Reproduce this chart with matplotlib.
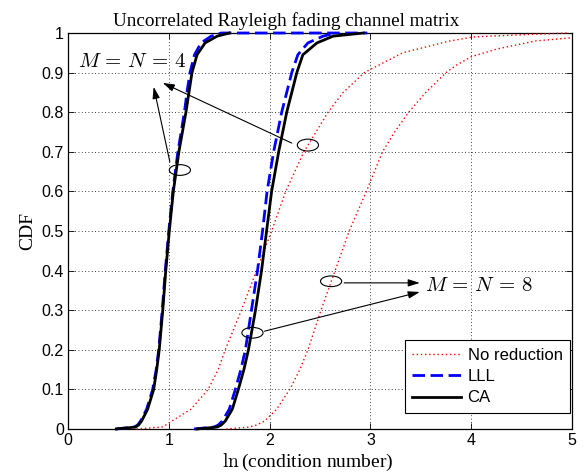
import matplotlib
matplotlib.use("Agg")
import matplotlib.pyplot as plt
from matplotlib.patches import Ellipse

plt.rcParams['mathtext.fontset'] = 'cm'

# ---- data: ln(condition number) (x) against CDF (y) ----
# M = N = 4
none4_x = [0.68, 0.93, 0.97, 1.03, 1.22, 1.39, 1.49, 1.56, 1.72, 1.87, 2.02, 2.16, 2.34, 2.58, 2.73, 2.94, 3.32, 3.79, 4.02, 4.45, 4.95]
none4_y = [0.0, 0.005, 0.01, 0.02, 0.05, 0.1, 0.15, 0.2, 0.3, 0.4, 0.5, 0.6, 0.7, 0.8, 0.85, 0.9, 0.95, 0.98, 0.99, 0.995, 1.0]

lll4_x = [0.47, 0.66, 0.69, 0.72, 0.78, 0.84, 0.875, 0.90, 0.935, 0.965, 1.0, 1.04, 1.09, 1.155, 1.18, 1.21, 1.255, 1.32, 1.42, 1.52, 2.97]
lll4_y = [0.0, 0.005, 0.01, 0.02, 0.05, 0.1, 0.15, 0.2, 0.3, 0.4, 0.5, 0.6, 0.7, 0.8, 0.85, 0.9, 0.945, 0.975, 0.992, 1.0, 1.0]

ca4_x = [0.48, 0.67, 0.70, 0.73, 0.79, 0.85, 0.88, 0.905, 0.94, 0.97, 1.005, 1.045, 1.10, 1.17, 1.20, 1.23, 1.28, 1.36, 1.48, 1.60]
ca4_y = [0.0, 0.005, 0.01, 0.02, 0.05, 0.1, 0.15, 0.2, 0.3, 0.4, 0.5, 0.6, 0.7, 0.8, 0.85, 0.9, 0.945, 0.975, 0.992, 1.0]

# M = N = 8
none8_x = [1.57, 1.80, 1.87, 1.95, 2.07, 2.20, 2.30, 2.38, 2.51, 2.65, 2.79, 2.96, 3.12, 3.24, 3.38, 3.55, 3.75, 3.86, 4.00, 4.26, 4.64, 5.00]
none8_y = [0.0, 0.005, 0.01, 0.02, 0.05, 0.1, 0.15, 0.2, 0.3, 0.4, 0.5, 0.6, 0.7, 0.75, 0.8, 0.85, 0.9, 0.92, 0.94, 0.96, 0.98, 0.988]

lll8_x = [1.25, 1.45, 1.49, 1.53, 1.60, 1.66, 1.715, 1.76, 1.82, 1.88, 1.93, 1.975, 2.04, 2.12, 2.17, 2.22, 2.28, 2.38, 2.53, 2.66]
lll8_y = [0.0, 0.005, 0.01, 0.02, 0.05, 0.1, 0.15, 0.2, 0.3, 0.4, 0.5, 0.6, 0.7, 0.8, 0.85, 0.9, 0.945, 0.975, 0.992, 1.0]

ca8_x = [1.28, 1.48, 1.52, 1.56, 1.63, 1.69, 1.745, 1.79, 1.86, 1.92, 1.97, 2.02, 2.09, 2.17, 2.22, 2.27, 2.33, 2.47, 2.63, 2.93]
ca8_y = [0.0, 0.005, 0.01, 0.02, 0.05, 0.1, 0.15, 0.2, 0.3, 0.4, 0.5, 0.6, 0.7, 0.8, 0.85, 0.9, 0.945, 0.975, 0.992, 1.0]

xticks = [0, 1, 2, 3, 4, 5]
yticks = [0, 0.1, 0.2, 0.3, 0.4, 0.5, 0.6, 0.7, 0.8, 0.9, 1]
ytick_labels = ['0', '0.1', '0.2', '0.3', '0.4', '0.5', '0.6', '0.7', '0.8', '0.9', '1']
legend_labels = ['No reduction', 'LLL', 'CA']

fig = plt.figure(figsize=(5.87, 4.76), dpi=100)
ax = fig.add_axes([68/587, 1-429/476, (572-68)/587, (429-33)/476])

kw_none = dict(color='red', linestyle=(0, (1, 2)), linewidth=1.0, zorder=3, clip_on=False)
kw_lll = dict(color='blue', linestyle=(0, (4.5, 2.0)), linewidth=2.0, zorder=3, clip_on=False)
kw_ca = dict(color='black', linestyle='-', linewidth=2.0, zorder=3, clip_on=False)

ax.plot(none4_x, none4_y, label=legend_labels[0], **kw_none)
ax.plot(lll4_x, lll4_y, label=legend_labels[1], **kw_lll)
ax.plot(ca4_x, ca4_y, label=legend_labels[2], **kw_ca)
ax.plot(none8_x, none8_y, **kw_none)
ax.plot(lll8_x, lll8_y, **kw_lll)
ax.plot(ca8_x, ca8_y, **kw_ca)

ax.set_xlim(0, 5)
ax.set_ylim(0, 1)
ax.set_xticks(xticks)
ax.set_yticks(yticks)
ax.set_yticklabels(ytick_labels)
ax.tick_params(direction='in', top=True, right=True, length=4, width=0.6, labelsize=11.5, pad=3)
for lab in ax.get_xticklabels() + ax.get_yticklabels():
    lab.set_family('Liberation Sans')
ax.grid(True, linestyle=(0, (1, 3)), color='black', linewidth=0.6)
for s in ax.spines.values():
    s.set_linewidth(0.9)

ax.set_title('Uncorrelated Rayleigh fading channel matrix', family='Liberation Serif',
             fontsize=13.8, x=0.4325, pad=5)
ax.set_xlabel(r'$\ln$(condition number)', family='Liberation Serif', fontsize=14, labelpad=0)
ax.xaxis.set_label_coords(0.476, -0.058)
ax.set_ylabel('CDF', family='Liberation Serif', fontsize=14, labelpad=4)

# Ellipse markers
for (cx, cy, w, h) in [(1.11, 0.654, 0.21, 0.027), (2.38, 0.717, 0.21, 0.03),
                       (1.83, 0.243, 0.21, 0.027), (2.61, 0.373, 0.21, 0.027)]:
    ax.add_patch(Ellipse((cx, cy), w, h, fill=False, edgecolor='black', linewidth=0.8, zorder=4))

arrow = dict(arrowstyle='-|>,head_length=0.7,head_width=0.22', color='black', linewidth=0.8,
             shrinkA=0, shrinkB=0)
ax.annotate('', xy=(0.85, 0.864), xytext=(1.01, 0.675), arrowprops=arrow, zorder=5)
ax.annotate('', xy=(0.94, 0.874), xytext=(2.22, 0.722), arrowprops=arrow, zorder=5)
ax.annotate('', xy=(3.49, 0.369), xytext=(2.74, 0.369), arrowprops=arrow, zorder=5)
ax.annotate('', xy=(3.49, 0.346), xytext=(1.95, 0.247), arrowprops=arrow, zorder=5)

ax.text(0.1, 0.93, r'$M\,=\,N\,=\,4$', fontsize=15, ha='left', va='center', zorder=5)
ax.text(3.54, 0.364, r'$M\,=\,N\,=\,8$', fontsize=15, ha='left', va='center', zorder=5)

leg = ax.legend(loc='lower right', bbox_to_anchor=((570-68)/504, (429-413)/396),
                prop={'family': 'Liberation Sans', 'size': 12},
                fancybox=False, edgecolor='black', framealpha=1, handlelength=2.9,
                borderaxespad=0, labelspacing=0.38, handletextpad=0.42, borderpad=0.45)
leg.get_frame().set_linewidth(0.8)
leg.set_zorder(6)

fig.savefig('out.png', dpi=100)
